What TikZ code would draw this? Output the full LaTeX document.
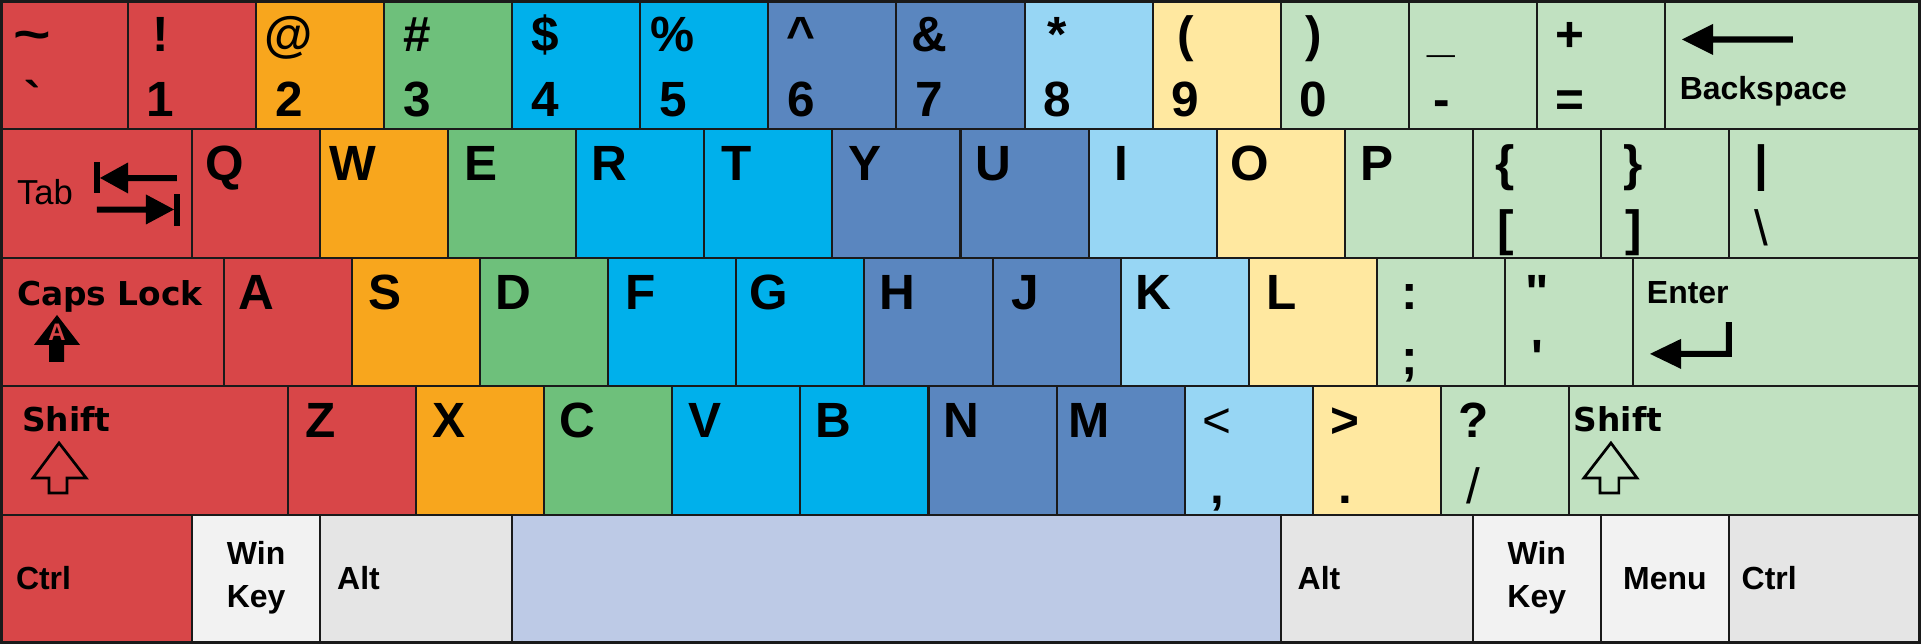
\documentclass[tikz,border=0pt]{standalone}
\usepackage{fontspec}
\setmainfont{Liberation Sans}
\newfontfamily\dejavu{DejaVu Sans}
\definecolor{kred}{HTML}{D84648}
\definecolor{korange}{HTML}{F8A61D}
\definecolor{kgreen}{HTML}{6EC07B}
\definecolor{kcyan}{HTML}{00B0EB}
\definecolor{ksteel}{HTML}{5A86BF}
\definecolor{klblue}{HTML}{97D6F4}
\definecolor{kyellow}{HTML}{FFE8A0}
\definecolor{klgreen}{HTML}{C1E1C1}
\definecolor{kspace}{HTML}{BDCAE6}
\definecolor{kgray}{HTML}{E5E5E5}
\definecolor{kwhite}{HTML}{F2F2F2}
\definecolor{kline}{HTML}{1A1A1A}
\tikzset{
  keyb/.style={draw=kline, line width=0.45pt, rectangle, inner sep=0pt, outer sep=0pt,
    anchor=north west, minimum height=1.00572cm},
  big/.style={inner sep=0pt, outer sep=0pt, anchor=base, font=\fontsize{11}{13}\selectfont\bfseries},
  bigr/.style={inner sep=0pt, outer sep=0pt, anchor=base, font=\fontsize{11}{13}\selectfont},
  med/.style={inner sep=0pt, outer sep=0pt, anchor=base west, font=\fontsize{7.1}{9}\selectfont\bfseries},
  medr/.style={inner sep=0pt, outer sep=0pt, anchor=base west, font=\fontsize{7.7}{9}\selectfont},
  medc/.style={inner sep=0pt, outer sep=0pt, anchor=base, font=\fontsize{7.1}{9}\selectfont\bfseries},
  dv/.style={inner sep=0pt, outer sep=0pt, anchor=base west, font=\fontsize{7.3}{9}\selectfont\dejavu\bfseries},
  icon/.style={fill=black, draw=none},
  hollow/.style={draw=black, line width=0.6pt, fill=none, line join=miter},
}
\newcommand\keycap[5]{\node[keyb, fill=#5, minimum width=#3cm] (#1) at (#2,{-#4*1.00572}) {};}
\newcommand\keytop[3][big]{\node[#1] (#2t) at ([shift={(0.255,-0.402)}]#2.north west) {#3};}
\newcommand\keybot[3][big]{\node[#1] (#2b) at ([shift={(0.255,-0.911)}]#2.north west) {#3};}
\begin{document}
\begin{tikzpicture}[x=1cm,y=1cm]
\useasboundingbox (0,0) rectangle (15,-5.0286);
% row 0
\keycap{k0}{0}{1}{0}{kred}
\keycap{k1}{1}{1}{0}{kred}
\keycap{k2}{2}{1}{0}{korange}
\keycap{k3}{3}{1}{0}{kgreen}
\keycap{k4}{4}{1}{0}{kcyan}
\keycap{k5}{5}{1}{0}{kcyan}
\keycap{k6}{6}{1}{0}{ksteel}
\keycap{k7}{7}{1}{0}{ksteel}
\keycap{k8}{8}{1}{0}{klblue}
\keycap{k9}{9}{1}{0}{kyellow}
\keycap{kzero}{10}{1}{0}{klgreen}
\keycap{kmin}{11}{1}{0}{klgreen}
\keycap{keq}{12}{1}{0}{klgreen}
\keycap{kbs}{13}{2}{0}{klgreen}
% row 1
\keycap{ktab}{0}{1.5}{1}{kred}
\keycap{kq}{1.5}{1}{1}{kred}
\keycap{kw}{2.5}{1}{1}{korange}
\keycap{ke}{3.5}{1}{1}{kgreen}
\keycap{kr}{4.5}{1}{1}{kcyan}
\keycap{kt}{5.5}{1}{1}{kcyan}
\keycap{ky}{6.5}{1}{1}{ksteel}
\keycap{ku}{7.5}{1}{1}{ksteel}
\keycap{ki}{8.5}{1}{1}{klblue}
\keycap{ko}{9.5}{1}{1}{kyellow}
\keycap{kp}{10.5}{1}{1}{klgreen}
\keycap{klb}{11.5}{1}{1}{klgreen}
\keycap{krb}{12.5}{1}{1}{klgreen}
\keycap{kbsl}{13.5}{1.5}{1}{klgreen}
% row 2
\keycap{kcaps}{0}{1.75}{2}{kred}
\keycap{ka}{1.75}{1}{2}{kred}
\keycap{ks}{2.75}{1}{2}{korange}
\keycap{kd}{3.75}{1}{2}{kgreen}
\keycap{kf}{4.75}{1}{2}{kcyan}
\keycap{kg}{5.75}{1}{2}{kcyan}
\keycap{kh}{6.75}{1}{2}{ksteel}
\keycap{kj}{7.75}{1}{2}{ksteel}
\keycap{kk}{8.75}{1}{2}{klblue}
\keycap{kl}{9.75}{1}{2}{kyellow}
\keycap{ksc}{10.75}{1}{2}{klgreen}
\keycap{kqu}{11.75}{1}{2}{klgreen}
\keycap{kent}{12.75}{2.25}{2}{klgreen}
% row 3
\keycap{klsh}{0}{2.25}{3}{kred}
\keycap{kz}{2.25}{1}{3}{kred}
\keycap{kx}{3.25}{1}{3}{korange}
\keycap{kc}{4.25}{1}{3}{kgreen}
\keycap{kv}{5.25}{1}{3}{kcyan}
\keycap{kb}{6.25}{1}{3}{kcyan}
\keycap{kn}{7.25}{1}{3}{ksteel}
\keycap{km}{8.25}{1}{3}{ksteel}
\keycap{kcom}{9.25}{1}{3}{klblue}
\keycap{kdot}{10.25}{1}{3}{kyellow}
\keycap{ksl}{11.25}{1}{3}{klgreen}
\keycap{krsh}{12.25}{2.75}{3}{klgreen}
% row 4
\keycap{klctrl}{0}{1.5}{4}{kred}
\keycap{klwin}{1.5}{1}{4}{kwhite}
\keycap{klalt}{2.5}{1.5}{4}{kgray}
\keycap{kspc}{4}{6}{4}{kspace}
\keycap{kralt}{10}{1.5}{4}{kgray}
\keycap{krwin}{11.5}{1}{4}{kwhite}
\keycap{kmenu}{12.5}{1}{4}{kwhite}
\keycap{krctrl}{13.5}{1.5}{4}{kgray}
% outer frame
\draw[kline, line width=0.667pt] (0.0117,-0.0117) rectangle (14.9883,-5.0169);
% row 0 labels
\keytop{k0}{\scalebox{1.3}[1]{\textasciitilde}}\keybot{k0}{\textasciigrave}
\keytop{k1}{!}\keybot{k1}{1}
\keytop{k2}{@}\keybot{k2}{2}
\keytop{k3}{\#}\keybot{k3}{3}
\keytop{k4}{\$}\keybot{k4}{4}
\keytop{k5}{\%}\keybot{k5}{5}
\keytop{k6}{\textasciicircum}\keybot{k6}{6}
\keytop{k7}{\&}\keybot{k7}{7}
\keytop{k8}{*}\keybot{k8}{8}
\keytop{k9}{(}\keybot{k9}{9}
\keytop{kzero}{)}\keybot{kzero}{0}
\keytop{kmin}{\_}\keybot{kmin}{-}
\keytop{keq}{+}\keybot{keq}{=}
\node[med] (kbsb) at ([shift={(0.117,-0.777)}]kbs.north west) {Backspace};
\begin{scope}[shift={(kbs.north west)}]
\fill[icon] (0.134,-0.308) -- (0.376,-0.187) -- (0.376,-0.285) -- (1.0,-0.285)
  -- (1.0,-0.332) -- (0.376,-0.332) -- (0.376,-0.429) -- cycle;
\end{scope}
% row 1 labels
\node[medr] (ktabt) at ([shift={(0.133,-0.595)}]ktab.north west) {Tab};
\begin{scope}[shift={(ktab.north west)}]
\fill[icon] (0.734,-0.259) rectangle (0.781,-0.501);
\fill[icon] (0.781,-0.384) -- (1.0,-0.263) -- (1.0,-0.361) -- (1.382,-0.361)
  -- (1.382,-0.408) -- (1.0,-0.408) -- (1.0,-0.505) -- cycle;
\fill[icon] (1.359,-0.509) rectangle (1.405,-0.759);
\fill[icon] (1.359,-0.630) -- (1.140,-0.513) -- (1.140,-0.607) -- (0.757,-0.607)
  -- (0.757,-0.654) -- (1.140,-0.654) -- (1.140,-0.747) -- cycle;
\end{scope}
\keytop{kq}{Q}\keytop{kw}{W}\keytop{ke}{E}\keytop{kr}{R}\keytop{kt}{T}
\keytop{ky}{Y}\keytop{ku}{U}\keytop{ki}{I}\keytop{ko}{O}\keytop{kp}{P}
\keytop{klb}{\{}\keybot{klb}{[}
\keytop{krb}{\}}\keybot{krb}{]}
\keytop{kbsl}{\textbar}\keybot[bigr]{kbsl}{\textbackslash}
% row 2 labels
\node[dv] (kcapst) at ([shift={(0.133,-0.378)}]kcaps.north west) {Caps Lock};
\begin{scope}[shift={(kcaps.north west)}]
\fill[icon] (0.445,-0.448) -- (0.625,-0.682) -- (0.500,-0.682) -- (0.500,-0.815)
  -- (0.383,-0.815) -- (0.383,-0.682) -- (0.265,-0.682) -- cycle;
\node[inner sep=0pt, text=kred, font=\fontsize{5.3}{6}\selectfont\bfseries] (kcapsA) at (0.445,-0.585) {A};
\end{scope}
\keytop{ka}{A}\keytop{ks}{S}\keytop{kd}{D}\keytop{kf}{F}\keytop{kg}{G}
\keytop{kh}{H}\keytop{kj}{J}\keytop{kk}{K}\keytop{kl}{L}
\keytop{ksc}{:}\keybot{ksc}{;}
\keytop{kqu}{\textquotedbl}\keybot{kqu}{\textquotesingle}
\node[med] (kentt) at ([shift={(0.11,-0.355)}]kent.north west) {Enter};
\begin{scope}[shift={(kent.north west)}]
\fill[icon] (0.134,-0.752) -- (0.376,-0.635) -- (0.376,-0.729) -- (0.727,-0.729)
  -- (0.727,-0.503) -- (0.774,-0.503) -- (0.774,-0.776) -- (0.376,-0.776)
  -- (0.376,-0.869) -- cycle;
\end{scope}
% row 3 labels
\node[dv] (klsht) at ([shift={(0.172,-0.356)}]klsh.north west) {Shift};
\begin{scope}[shift={(klsh.north west)}]
\draw[hollow] (0.461,-0.442) -- (0.672,-0.715) -- (0.523,-0.715) -- (0.523,-0.832)
  -- (0.383,-0.832) -- (0.383,-0.715) -- (0.258,-0.715) -- cycle;
\end{scope}
\keytop{kz}{Z}\keytop{kx}{X}\keytop{kc}{C}\keytop{kv}{V}\keytop{kb}{B}
\keytop{kn}{N}\keytop{km}{M}
\keytop[bigr]{kcom}{\textless}\keybot{kcom}{,}
\keytop{kdot}{\textgreater}\keybot{kdot}{.}
\keytop{ksl}{?}\keybot[bigr]{ksl}{/}
\node[dv] (krsht) at ([shift={(0.04,-0.356)}]krsh.north west) {Shift};
\begin{scope}[shift={(krsh.north west)}]
\draw[hollow] (0.329,-0.442) -- (0.532,-0.715) -- (0.391,-0.715) -- (0.391,-0.832)
  -- (0.243,-0.832) -- (0.243,-0.715) -- (0.118,-0.715) -- cycle;
\end{scope}
% row 4 labels
\node[med] (klctrlt) at ([shift={(0.125,-0.584)}]klctrl.north west) {Ctrl};
\node[medc] (klwint) at ([shift={(0.5,-0.385)}]klwin.north west) {Win};
\node[medc] (klwinb) at ([shift={(0.5,-0.717)}]klwin.north west) {Key};
\node[med] (klaltt) at ([shift={(0.133,-0.584)}]klalt.north west) {Alt};
\node[med] (kraltt) at ([shift={(0.133,-0.584)}]kralt.north west) {Alt};
\node[medc] (krwint) at ([shift={(0.5,-0.385)}]krwin.north west) {Win};
\node[medc] (krwinb) at ([shift={(0.5,-0.717)}]krwin.north west) {Key};
\node[medc] (kmenut) at ([shift={(0.5,-0.58)}]kmenu.north west) {Menu};
\node[med] (krctrlt) at ([shift={(0.10,-0.584)}]krctrl.north west) {Ctrl};
\end{tikzpicture}
\end{document}
